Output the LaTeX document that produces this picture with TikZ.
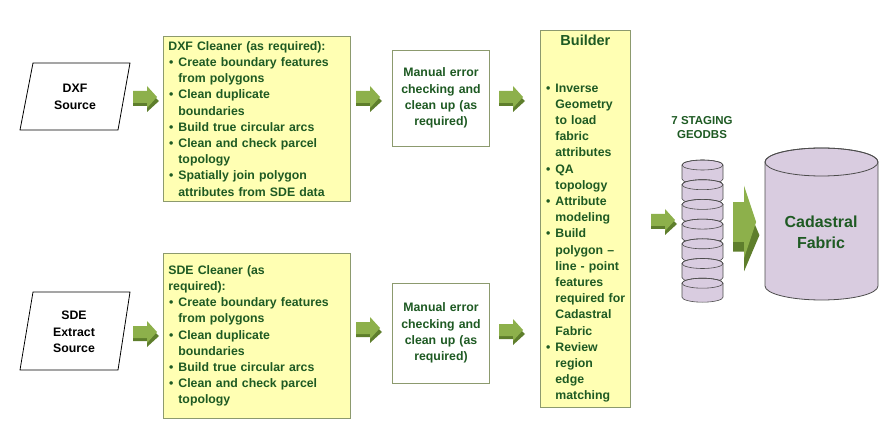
\documentclass[tikz,border=0pt]{standalone}
\usepackage{fontspec}
\setmainfont{Liberation Sans}
\usepackage{enumitem}
\begin{document}
\definecolor{tg}{HTML}{1E5A23}
\definecolor{yel}{HTML}{FFFFB3}
\definecolor{ybd}{HTML}{8C9A6E}
\definecolor{agr}{HTML}{8DB04B}
\definecolor{adk}{HTML}{5E7E2C}
\definecolor{lav}{HTML}{D9CCE0}
\begin{tikzpicture}[x=1pt,y=-1pt,
  txt/.style={font=\fontsize{12.3}{16.2}\selectfont\bfseries,text=tg,align=left},
  ybox/.style={draw=ybd,fill=yel,line width=0.8pt,inner sep=5pt,anchor=north west},
  mbox/.style={draw=ybd,fill=white,line width=0.8pt,txt,align=center},
  src/.style={font=\fontsize{12.3}{16.5}\selectfont\bfseries,align=center}]
\useasboundingbox (0,0) rectangle (893,443);
\newcommand{\garrow}[3]{% x, y, scale
  \begin{scope}[shift={(#1,#2)},scale=#3]
  \fill[adk] (0,1)--(14,1)--(14,-7)--(26,4)--(14,15)--(14,9)--(0,9)--cycle;
  \fill[agr] (0,-6)--(14,-6)--(14,-11)--(24,0)--(14,11)--(14,6)--(0,6)--cycle;
  \end{scope}}
% sources
\draw[line width=0.8pt] (33,63)--(130,63)--(118,130)--(20,130)--cycle;
\node[src] (dxf) at (75,97) {DXF\\Source};
\draw[line width=0.8pt] (33,292)--(130,292)--(118,370)--(20,370)--cycle;
\node[src] (sde) at (74,332) {SDE\\Extract\\Source};
% cleaners
\node[ybox,minimum width=187,minimum height=160,text width=177,txt] (c1) at (163,36) {DXF Cleaner (as required):
\begin{itemize}[leftmargin=10pt,nosep,label=\textbullet]
\item Create boundary features from polygons
\item Clean duplicate\\ boundaries
\item Build true circular arcs
\item Clean and check parcel topology
\item Spatially join polygon attributes from SDE data
\end{itemize}};
\node[ybox,minimum width=187,minimum height=165,text width=177,txt] (c2) at (163,253) {SDE Cleaner (as\\ required):
\begin{itemize}[leftmargin=10pt,nosep,label=\textbullet]
\item Create boundary features from polygons
\item Clean duplicate\\ boundaries
\item Build true circular arcs
\item Clean and check parcel topology
\end{itemize}};
% manual
\node[mbox,minimum width=97,minimum height=96,text width=88] (m1) at (441,98) {Manual error\\ checking and\\ clean up (as\\ required)};
\node[mbox,minimum width=97,minimum height=100,text width=88] (m2) at (441,333) {Manual error\\ checking and\\ clean up (as\\ required)};
% builder
\node[ybox,minimum width=90,minimum height=360,text width=80,txt] (b) at (540,30) {{\centering\fontsize{14.5}{18}\selectfont Builder\par}\vspace{30pt}
\begin{itemize}[leftmargin=10pt,nosep,label=\textbullet]
\item Inverse Geometry to load fabric attributes
\item QA topology
\item Attribute modeling
\item Build polygon -- line - point features required for Cadastral Fabric
\item Review region edge matching
\end{itemize}};
% arrows
\garrow{133}{97}{1}
\garrow{133}{332}{1}
\garrow{356}{97}{1}
\garrow{356}{328}{1}
\garrow{499}{97}{1}
\garrow{499}{330}{1}
\garrow{651}{220}{1}
\begin{scope}[shift={(733,222)},xscale=1.1,yscale=3.3]
  \fill[adk] (0,1)--(10,1)--(10,-7)--(24,4)--(10,15)--(10,9)--(0,9)--cycle;
  \fill[agr] (0,-6)--(10,-6)--(10,-11)--(21,0)--(10,11)--(10,6)--(0,6)--cycle;
\end{scope}
% stack
\node[txt,align=center,font=\fontsize{11.5}{14}\selectfont\bfseries] (lab) at (702,128) {7 STAGING\\GEODBS};
\foreach \i in {0,...,6} {
  \pgfmathsetmacro{\yt}{165+\i*19.7}
  \filldraw[fill=lav,draw=black!70,line width=0.6pt] (682,\yt) -- (682,\yt+14) arc[start angle=180,end angle=0,x radius=20.5,y radius=5] -- (723,\yt) arc[start angle=0,end angle=-180,x radius=20.5,y radius=5] -- cycle;
  \draw[black!70,line width=0.6pt] (702.5,\yt) ellipse[x radius=20.5,y radius=5];
}
% cylinder
\filldraw[fill=lav,draw=black!70,line width=0.8pt] (765,162) -- (765,286) arc[start angle=180,end angle=0,x radius=56.5,y radius=14] -- (878,162) arc[start angle=0,end angle=-180,x radius=56.5,y radius=14] -- cycle;
\draw[black!70,line width=0.8pt] (821.5,162) ellipse[x radius=56.5,y radius=14];
\node[txt,align=center,font=\fontsize{16}{21}\selectfont\bfseries] (cf) at (821,232) {Cadastral\\Fabric};
\end{tikzpicture}
\end{document}
